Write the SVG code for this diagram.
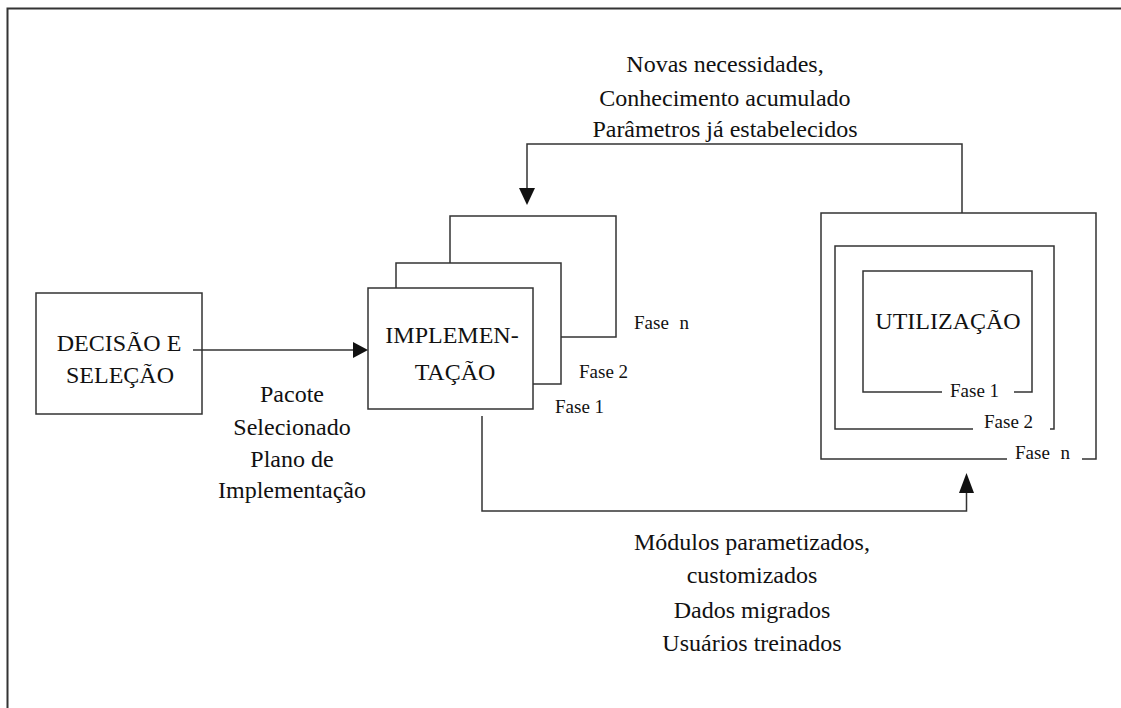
<svg xmlns="http://www.w3.org/2000/svg" width="1121" height="708" viewBox="0 0 1121 708">
<style>
.box{fill:#fff;stroke:#333;stroke-width:1.5}
.ln{fill:none;stroke:#333;stroke-width:1.5}
.t{font-family:'Liberation Serif','DejaVu Serif',serif;font-size:24px;fill:#111;text-anchor:middle}
.f{font-family:'Liberation Serif','DejaVu Serif',serif;font-size:19px;fill:#111}
.ah{fill:#111}
</style>
<rect width="1121" height="708" fill="#fff"/>
<path d="M7.5,720 V8.5 H1130" fill="none" stroke="#333" stroke-width="2"/>

<g id="decisao">
<rect class="box" x="36" y="293" width="166" height="121"/>
<text class="t" x="119" y="351">DECISÃO E</text>
<text class="t" x="120" y="383">SELEÇÃO</text>
</g>

<g id="implementacao">
<rect class="box" x="450" y="216" width="166" height="121"/>
<rect class="box" x="396" y="263" width="165" height="121"/>
<rect class="box" x="368" y="288" width="165" height="121"/>
<text class="t" x="452" y="343">IMPLEMEN-</text>
<text class="t" x="455" y="380">TAÇÃO</text>
<text class="f" x="634" y="329" word-spacing="6">Fase n</text>
<text class="f" x="579" y="378">Fase 2</text>
<text class="f" x="555" y="413">Fase 1</text>
</g>

<g id="utilizacao">
<path class="ln" d="M1007,459 H821 V213 H1096 V459 H1082"/>
<path class="ln" d="M973,429 H835 V246 H1054 V429 H1050"/>
<path class="ln" d="M942,392 H863 V271 H1032 V392 H1014"/>
<text class="t" x="948" y="329">UTILIZAÇÃO</text>
<text class="f" x="950" y="397">Fase 1</text>
<text class="f" x="984" y="428">Fase 2</text>
<text class="f" x="1015" y="459" word-spacing="6">Fase n</text>
</g>

<g id="connectors">
<g id="c-decisao-impl">
<path class="ln" d="M193,350 H354"/>
<polygon class="ah" points="368,350 353,342 353,358"/>
</g>
<g id="c-util-impl">
<path class="ln" d="M962,213 V144 H527 V190"/>
<polygon class="ah" points="527,205 519,188 535,188"/>
</g>
<g id="c-impl-util">
<path class="ln" d="M482,416 V511 H966.5 V492"/>
<polygon class="ah" points="966.5,473 959,493 974,493"/>
</g>
</g>

<g id="labels">
<text class="t" x="292" y="402">Pacote</text>
<text class="t" x="292" y="435">Selecionado</text>
<text class="t" x="292" y="467">Plano de</text>
<text class="t" x="292" y="498">Implementação</text>
<text class="t" x="725" y="72">Novas necessidades,</text>
<text class="t" x="725" y="106">Conhecimento acumulado</text>
<text class="t" x="725" y="137">Parâmetros já estabelecidos</text>
<text class="t" x="752" y="550">Módulos parametizados,</text>
<text class="t" x="752" y="583">customizados</text>
<text class="t" x="752" y="618">Dados migrados</text>
<text class="t" x="752" y="651">Usuários treinados</text>
</g>
</svg>
